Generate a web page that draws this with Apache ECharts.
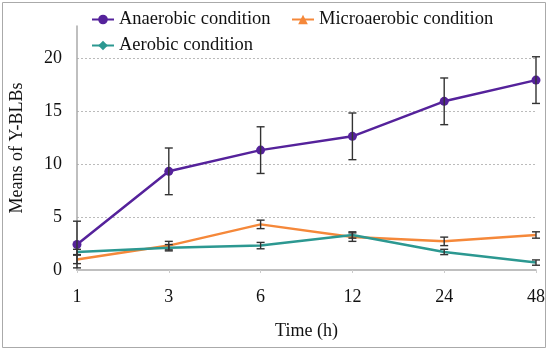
<!DOCTYPE html>
<html>
<head>
<meta charset="utf-8">
<script src="https://cdn.jsdelivr.net/npm/echarts@6/dist/echarts.min.js"></script>
<style>
html,body{margin:0;padding:0;background:#fff;}
#chart{width:550px;height:351px;}
</style>
</head>
<body>
<div id="chart"></div>
<script>
const categories = ['1', '3', '6', '12', '24', '48'];
const anaerobic = [2.4, 9.3, 11.3, 12.6, 15.9, 17.9];
const anaerobicErr = [2.2, 2.2, 2.2, 2.2, 2.2, 2.2];
const microaerobic = [1.0, 2.3, 4.3, 3.1, 2.7, 3.3];
const microaerobicErr = [0.4, 0.4, 0.4, 0.4, 0.4, 0.3];
const aerobic = [1.7, 2.1, 2.3, 3.3, 1.7, 0.7];
const aerobicErr = [0.25, 0.3, 0.3, 0.3, 0.25, 0.25];
const yTicks = [0, 5, 10, 15, 20];

const names = ['Anaerobic condition', 'Microaerobic condition', 'Aerobic condition'];
const colors = ['#55229b', '#f5883a', '#2c9891'];
const FONT = 'Liberation Serif';

function errData(vals, errs) {
  return vals.map((v, i) => [i, Math.max(0, v - errs[i]), v + errs[i]]);
}

function errSeries(vals, errs) {
  return {
    type: 'custom',
    z: 5,
    silent: true,
    data: errData(vals, errs),
    encode: { x: 0, y: [1, 2] },
    renderItem: function (params, api) {
      const i = api.value(0);
      const lo = api.coord([i, api.value(1)]);
      const hi = api.coord([i, api.value(2)]);
      const w = 4;
      const style = { stroke: '#333', lineWidth: 1.4, fill: null };
      return {
        type: 'group',
        children: [
          { type: 'line', shape: { x1: lo[0], y1: lo[1], x2: hi[0], y2: hi[1] }, style: style },
          { type: 'line', shape: { x1: lo[0] - w, y1: lo[1], x2: lo[0] + w, y2: lo[1] }, style: style },
          { type: 'line', shape: { x1: hi[0] - w, y1: hi[1], x2: hi[0] + w, y2: hi[1] }, style: style }
        ]
      };
    }
  };
}

const chart = echarts.init(document.getElementById('chart'), null, { renderer: 'canvas' });
const legendText = { fontFamily: FONT, fontSize: 18.5, color: '#111' };
chart.setOption({
  animation: false,
  color: colors,
  graphic: [{
    type: 'rect', silent: true, z: -10,
    shape: { x: 2.5, y: 2.5, width: 543, height: 345 },
    style: { fill: 'none', stroke: '#aaa', lineWidth: 1 }
  }],
  legend: [
    { data: [names[0]], left: 86, top: 5, itemWidth: 22, itemHeight: 12, itemGap: 0, textStyle: legendText, selectedMode: false },
    { data: [names[1]], left: 286, top: 5, itemWidth: 22, itemHeight: 12, itemGap: 0, textStyle: legendText, selectedMode: false },
    { data: [names[2]], left: 86, top: 31, itemWidth: 22, itemHeight: 12, itemGap: 0, textStyle: legendText, selectedMode: false }
  ],
  grid: { left: 77, right: 14, top: 26, bottom: 81 },
  xAxis: {
    type: 'category',
    data: categories,
    boundaryGap: false,
    name: 'Time (h)',
    nameLocation: 'middle',
    nameGap: 52,
    nameTextStyle: { fontFamily: FONT, fontSize: 18, color: '#111' },
    axisLine: { lineStyle: { color: '#aaa', width: 1.5 } },
    axisTick: { show: true, length: 3, lineStyle: { color: '#ccc' } },
    axisLabel: { fontFamily: FONT, fontSize: 18, color: '#111', margin: 18 }
  },
  yAxis: {
    type: 'value',
    min: 0,
    max: 23,
    interval: 5,
    name: 'Means of Y-BLBs',
    nameLocation: 'middle',
    nameGap: 51,
    nameTextStyle: { fontFamily: FONT, fontSize: 18, color: '#111' },
    axisLine: { show: true, lineStyle: { color: '#aaa', width: 1.5 } },
    axisTick: { show: false },
    axisLabel: {
      fontFamily: FONT, fontSize: 18, color: '#111', margin: 15,
      showMaxLabel: false,
      formatter: function (v) { return yTicks.indexOf(v) >= 0 ? String(v) : ''; }
    },
    splitLine: { show: true, showMinLine: false, showMaxLine: false, lineStyle: { color: '#bbb', type: [2, 2], width: 1 } }
  },
  series: [
    {
      name: names[0], type: 'line', data: anaerobic, z: 4,
      symbol: 'circle', symbolSize: 9, showSymbol: true,
      lineStyle: { width: 2.5, color: colors[0] },
      itemStyle: { color: colors[0] }
    },
    {
      name: names[1], type: 'line', data: microaerobic, z: 3,
      symbol: 'triangle', symbolSize: 10, showSymbol: false,
      lineStyle: { width: 2.5, color: colors[1] },
      itemStyle: { color: colors[1] }
    },
    {
      name: names[2], type: 'line', data: aerobic, z: 3,
      symbol: 'diamond', symbolSize: 12, showSymbol: false,
      lineStyle: { width: 2.5, color: colors[2] },
      itemStyle: { color: colors[2] }
    },
    errSeries(anaerobic, anaerobicErr),
    errSeries(microaerobic, microaerobicErr),
    errSeries(aerobic, aerobicErr)
  ]
});
</script>
</body>
</html>
